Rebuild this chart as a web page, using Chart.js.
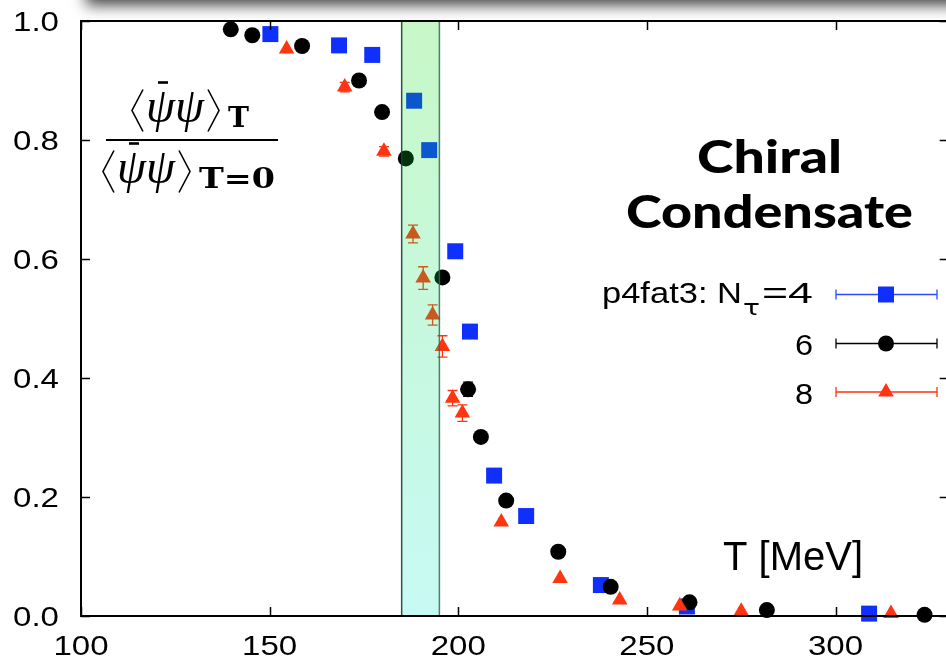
<!DOCTYPE html>
<html lang="en">
<head>
<meta charset="UTF-8">
<meta name="viewport" content="width=device-width, initial-scale=1.0">
<title>Chiral Condensate</title>
<script src="https://cdn.jsdelivr.net/npm/chart.js"></script>
<style>
    html, body { margin: 0; padding: 0; background: #fff; overflow: hidden; }
    #wrap { width: 946px; height: 667px; overflow: hidden; }
    canvas { display: block; }
</style>
</head>
<body>

<div id="wrap">
    <canvas id="condensateChart" width="960" height="667"></canvas>
</div>

<script>
    // p4fat3 action, N_tau = 4
    const tempNt4 = [150.2, 168.4, 177.2, 188.3, 192.3, 199.2, 203.1, 209.5, 218.0, 237.8, 260.6, 308.9];
    const condNt4 = [0.978, 0.959, 0.943, 0.866, 0.783, 0.613, 0.478, 0.236, 0.168, 0.052, 0.016, 0.004];
    const errNt4  = [0, 0, 0, 0, 0, 0, 0, 0, 0, 0, 0, 0];

    // N_tau = 6
    const tempNt6 = [139.7, 145.4, 158.6, 173.7, 179.8, 186.1, 195.8, 202.6, 206.0, 212.7, 226.5, 240.4, 261.3, 281.8, 323.6];
    const condNt6 = [0.986, 0.976, 0.958, 0.900, 0.847, 0.769, 0.569, 0.381, 0.301, 0.194, 0.108, 0.049, 0.023, 0.010, 0.002];
    const errNt6  = [0, 0, 0, 0, 0, 0, 0.004, 0.012, 0, 0, 0, 0, 0, 0, 0];

    // N_tau = 8
    const tempNt8 = [154.5, 169.9, 180.3, 188.0, 190.7, 193.2, 195.8, 198.5, 201.1, 211.4, 227.0, 242.8, 258.7, 275.0, 314.7];
    const condNt8 = [0.953, 0.889, 0.781, 0.642, 0.568, 0.506, 0.453, 0.366, 0.341, 0.158, 0.063, 0.027, 0.017, 0.008, 0.004];
    const errNt8  = [0, 0.008, 0.008, 0.015, 0.019, 0.017, 0.018, 0.013, 0.014, 0, 0, 0, 0, 0, 0];

    // transition region band [MeV]
    const bandRange = [185, 195];

    const xTicks = [100, 150, 200, 250, 300];
    const yTicks = [0.0, 0.2, 0.4, 0.6, 0.8, 1.0];
    const xTickLabels = ['100', '150', '200', '250', '300'];
    const yTickLabels = ['0.0', '0.2', '0.4', '0.6', '0.8', '1.0'];

    const BLUE = '#0f30fc';
    const RED = '#ff3410';

    function toPoints(xs, ys) {
        return xs.map((x, i) => ({ x: x, y: ys[i] }));
    }

    // draw text squeezed or stretched horizontally
    function stretchText(ctx, text, x, y, sx, align) {
        ctx.save();
        ctx.translate(x, y);
        ctx.scale(sx, 1);
        ctx.textAlign = align || 'left';
        ctx.fillText(text, 0, 0);
        ctx.restore();
    }

    function fitText(ctx, text, x, y, width, align) {
        const w = ctx.measureText(text).width;
        stretchText(ctx, text, x, y, width / w, align);
    }

    function angle(ctx, xTip, xOpen, yTop, yBot) {
        ctx.beginPath();
        ctx.moveTo(xOpen, yTop);
        ctx.lineTo(xTip, (yTop + yBot) / 2);
        ctx.lineTo(xOpen, yBot);
        ctx.stroke();
    }

    // <psibar psi> with a bar over the first psi
    function drawCondensate(ctx, x0, yMid, sub, subWidth) {
        ctx.lineWidth = 1.6;
        ctx.strokeStyle = '#000';
        angle(ctx, x0, x0 + 11, yMid - 21, yMid + 21);
        ctx.font = 'italic 48px "Liberation Serif"';
        ctx.textBaseline = 'alphabetic';
        fitText(ctx, 'ψ', x0 + 14, yMid + 11, 29, 'left');
        fitText(ctx, 'ψ', x0 + 43, yMid + 11, 29, 'left');
        ctx.lineWidth = 2.6;
        ctx.beginPath();
        ctx.moveTo(x0 + 26, yMid - 28);
        ctx.lineTo(x0 + 36, yMid - 28);
        ctx.stroke();
        ctx.lineWidth = 1.6;
        angle(ctx, x0 + 87, x0 + 76, yMid - 21, yMid + 21);
        ctx.font = 'bold 27px "DejaVu Serif"';
        fitText(ctx, sub, x0 + 96, yMid + 16, subWidth, 'left');
    }

    const condensatePlugin = {
        id: 'condensateDecor',
        afterDatasetsDraw(chart) {
            const ctx = chart.ctx;
            const xs = chart.scales.x;
            const ys = chart.scales.y;
            const area = chart.chartArea;

            // error bars
            ctx.save();
            ctx.lineWidth = 1.3;
            chart.data.datasets.forEach(ds => {
                ctx.strokeStyle = ds.backgroundColor;
                ds.data.forEach((p, j) => {
                    const e = ds.err[j];
                    if (!e) return;
                    const px = xs.getPixelForValue(p.x);
                    const y1 = ys.getPixelForValue(p.y - e);
                    const y2 = ys.getPixelForValue(p.y + e);
                    ctx.beginPath();
                    ctx.moveTo(px, y1); ctx.lineTo(px, y2);
                    ctx.moveTo(px - 5, y1); ctx.lineTo(px + 5, y1);
                    ctx.moveTo(px - 5, y2); ctx.lineTo(px + 5, y2);
                    ctx.stroke();
                });
            });
            ctx.restore();

            // transition band, translucent over the points
            const bx1 = xs.getPixelForValue(bandRange[0]);
            const bx2 = xs.getPixelForValue(bandRange[1]);
            ctx.save();
            const grad = ctx.createLinearGradient(0, area.top, 0, area.bottom);
            grad.addColorStop(0, 'rgba(0, 222, 0, 0.22)');
            grad.addColorStop(1, 'rgba(0, 231, 208, 0.22)');
            ctx.fillStyle = grad;
            ctx.fillRect(bx1, area.top, bx2 - bx1, area.bottom - area.top);
            ctx.lineWidth = 1.5;
            ctx.strokeStyle = 'rgba(15, 70, 45, 0.9)';
            ctx.beginPath();
            ctx.moveTo(bx1, area.top); ctx.lineTo(bx1, area.bottom);
            ctx.stroke();
            ctx.strokeStyle = 'rgba(40, 110, 85, 0.85)';
            ctx.beginPath();
            ctx.moveTo(bx2, area.top); ctx.lineTo(bx2, area.bottom);
            ctx.stroke();
            ctx.restore();

            // frame and inward ticks
            ctx.save();
            ctx.strokeStyle = '#000';
            ctx.lineWidth = 2;
            ctx.strokeRect(area.left, area.top, area.right - area.left, area.bottom - area.top);
            ctx.lineWidth = 1.5;
            ctx.beginPath();
            xTicks.forEach(t => {
                const px = Math.round(xs.getPixelForValue(t)) + 0.5;
                ctx.moveTo(px, area.bottom); ctx.lineTo(px, area.bottom - 9);
                ctx.moveTo(px, area.top); ctx.lineTo(px, area.top + 9);
            });
            yTicks.forEach(t => {
                const py = Math.round(ys.getPixelForValue(t)) + 0.5;
                ctx.moveTo(area.left, py); ctx.lineTo(area.left + 9, py);
                ctx.moveTo(area.right, py); ctx.lineTo(area.right - 9, py);
            });
            ctx.stroke();
            ctx.restore();
        },
        afterDraw(chart) {
            const ctx = chart.ctx;
            const xs = chart.scales.x;
            const ys = chart.scales.y;

            ctx.save();
            ctx.fillStyle = '#000';

            // tick labels
            ctx.font = '28px "Liberation Sans"';
            ctx.textBaseline = 'middle';
            yTicks.forEach((t, i) => {
                stretchText(ctx, yTickLabels[i], 59, ys.getPixelForValue(t) + 2, 1.18, 'right');
            });
            ctx.textBaseline = 'alphabetic';
            xTicks.forEach((t, i) => {
                stretchText(ctx, xTickLabels[i], xs.getPixelForValue(t), 655, 1.18, 'center');
            });

            // axis label
            ctx.font = '40px "Liberation Sans"';
            fitText(ctx, 'T [MeV]', 723, 570, 140, 'left');

            // title
            ctx.font = '900 46px Lato';
            fitText(ctx, 'Chiral', 769.5, 173, 145, 'center');
            fitText(ctx, 'Condensate', 769.5, 228, 287, 'center');

            // ratio <psibar psi>_T / <psibar psi>_{T=0}
            drawCondensate(ctx, 132, 110.5, 'T', 21);
            ctx.lineWidth = 2;
            ctx.beginPath();
            ctx.moveTo(106, 140); ctx.lineTo(278, 140);
            ctx.stroke();
            drawCondensate(ctx, 103, 171.5, 'T=0', 76);

            // legend
            const rows = [
                { ds: chart.data.datasets[0], y: 294.5, color: '#2a4cff' },
                { ds: chart.data.datasets[1], y: 343.5, color: '#000' },
                { ds: chart.data.datasets[2], y: 392, color: RED }
            ];
            rows.forEach(r => {
                ctx.strokeStyle = r.color;
                ctx.lineWidth = 1.3;
                ctx.beginPath();
                ctx.moveTo(836, r.y); ctx.lineTo(937, r.y);
                ctx.moveTo(836, r.y - 5); ctx.lineTo(836, r.y + 5);
                ctx.moveTo(937, r.y - 5); ctx.lineTo(937, r.y + 5);
                ctx.stroke();
                ctx.fillStyle = r.ds.backgroundColor;
                Chart.helpers.drawPoint(ctx, {
                    pointStyle: r.ds.pointStyle,
                    radius: r.ds.pointRadius,
                    rotation: 0,
                    borderWidth: 0
                }, 886, r.y);
            });
            ctx.fillStyle = '#000';
            ctx.font = '29px "Liberation Sans"';
            ctx.textBaseline = 'alphabetic';
            stretchText(ctx, '6', 813, 355, 1.12, 'right');
            stretchText(ctx, '8', 813, 404, 1.12, 'right');
            // "p4fat3: N" + subscript tau + "=4"
            fitText(ctx, 'p4fat3: N', 602, 303, 140, 'left');
            fitText(ctx, '=4', 762, 303, 51, 'left');
            ctx.font = '22px "DejaVu Sans"';
            fitText(ctx, 'τ', 743, 315, 17, 'left');

            // soft shadow along the top edge
            ctx.shadowColor = 'rgba(0, 0, 0, 0.75)';
            ctx.shadowBlur = 14;
            ctx.shadowOffsetY = 1000;
            ctx.fillStyle = '#000';
            ctx.fillRect(86, -1060, 1000, 65);
            ctx.restore();
        }
    };

    const ctx = document.getElementById('condensateChart').getContext('2d');
    const condensateChart = new Chart(ctx, {
        type: 'scatter',
        data: {
            datasets: [
                {
                    label: 'p4fat3: Nτ=4',
                    data: toPoints(tempNt4, condNt4),
                    err: errNt4,
                    pointStyle: 'rect',
                    pointRadius: 11.3,
                    backgroundColor: BLUE,
                    borderWidth: 0,
                    order: 3
                },
                {
                    label: '6',
                    data: toPoints(tempNt6, condNt6),
                    err: errNt6,
                    pointStyle: 'circle',
                    pointRadius: 8,
                    backgroundColor: '#000',
                    borderWidth: 0,
                    order: 2
                },
                {
                    label: '8',
                    data: toPoints(tempNt8, condNt8),
                    err: errNt8,
                    pointStyle: 'triangle',
                    pointRadius: 9,
                    backgroundColor: RED,
                    borderWidth: 0,
                    order: 1
                }
            ]
        },
        options: {
            responsive: false,
            animation: false,
            clip: false,
            layout: { padding: { left: 81, top: 21, right: 0.7, bottom: 51 } },
            plugins: {
                legend: { display: false },
                tooltip: { enabled: false }
            },
            scales: {
                x: { type: 'linear', min: 100, max: 330, display: false },
                y: { type: 'linear', min: 0, max: 1, display: false }
            }
        },
        plugins: [condensatePlugin]
    });
</script>

</body>
</html>
